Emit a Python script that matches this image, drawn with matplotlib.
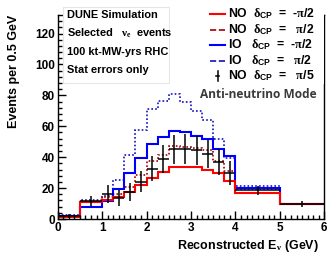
import numpy as np
import matplotlib
matplotlib.use("Agg")
import matplotlib.pyplot as plt
from matplotlib.lines import Line2D
from matplotlib.patches import Rectangle

# ---- data ----
edges = [0, 0.5, 1.0, 1.25, 1.5, 1.75, 2.0, 2.25, 2.5, 2.75, 3.0, 3.25, 3.5, 3.75, 4.0, 5.0, 6.0]
no_m = [1.0, 11.0, 12.5, 14.4, 17.6, 22.0, 26.3, 30.2, 33.8, 33.4, 33.4, 31.7, 29.5, 24.3, 16.6, 9.5]
no_p = [2.0, 11.5, 14.0, 16.0, 21.0, 28.5, 37.5, 41.5, 47.0, 46.5, 46.0, 44.5, 37.5, 31.0, 19.5, 9.5]
io_m = [2.0, 8.0, 11.5, 19.5, 30.0, 39.5, 48.5, 53.0, 57.0, 56.0, 54.0, 51.5, 45.5, 40.5, 20.0, 9.5]
io_p = [2.5, 12.0, 15.0, 25.0, 41.5, 57.5, 71.0, 76.5, 81.0, 76.0, 70.0, 64.0, 51.5, 39.5, 21.5, 9.5]
data_y = [2.0, 11.5, 16.0, 13.4, 17.6, 24.1, 32.5, 38.8, 45.0, 45.2, 44.6, 42.0, 37.0, 30.0, 18.5, 9.5]
data_err = [1.4, 3.4, 5.7, 5.2, 5.9, 6.9, 8.0, 8.8, 9.5, 9.5, 9.4, 9.2, 8.6, 7.7, 3.0, 2.0]

legend_labels = [r'NO  $\delta_{\mathbf{CP}}$  =  -$\pi$/2',
                 r'NO  $\delta_{\mathbf{CP}}$  =   $\pi$/2',
                 r'IO   $\delta_{\mathbf{CP}}$  =  -$\pi$/2',
                 r'IO   $\delta_{\mathbf{CP}}$  =   $\pi$/2',
                 r'NO  $\delta_{\mathbf{CP}}$  =   $\pi$/5']
info_lines = ['DUNE Simulation', r'Selected   $\nu_e$  events', '100 kt-MW-yrs RHC', 'Stat errors only']

plt.rcParams['font.family'] = ['Liberation Sans', 'DejaVu Sans']
plt.rcParams['font.weight'] = 'bold'
plt.rcParams['mathtext.fontset'] = 'custom'
plt.rcParams['mathtext.rm'] = 'Liberation Sans:bold'
plt.rcParams['mathtext.bf'] = 'Liberation Sans:bold'
plt.rcParams['mathtext.it'] = 'Liberation Serif'

W, H = 328, 257
fig = plt.figure(figsize=(W / 100, H / 100), dpi=100)
L, R, T, B = 57.7, 324.3, 15.0, 219.0
ax = fig.add_axes([L / W, 1 - B / H, (R - L) / W, (B - T) / H])

edges = np.array(edges)
centers = 0.5 * (edges[:-1] + edges[1:])
halfw = 0.5 * np.diff(edges)

DOT = (0, (1.0, 1.3))
ax.stairs(io_p, edges, color='#1010c0', lw=1.2, ls=DOT, baseline=None)
ax.stairs(no_p, edges, color='#a00000', lw=1.2, ls=DOT, baseline=None)
ax.stairs(io_m, edges, color='#0000ff', lw=1.5, baseline=None)
ax.stairs(no_m, edges, color='#ff0000', lw=1.5, baseline=None)
ax.errorbar(centers, data_y, yerr=data_err, xerr=halfw, fmt='none', ecolor='black', elinewidth=1.1, capsize=0)

ax.set_xlim(0, 6)
ax.set_ylim(0, 132)
ax.set_xticks(range(0, 7))
ax.set_xticks(np.arange(0, 6.01, 0.125), minor=True)
ax.set_yticks(range(0, 121, 20))
ax.set_yticks(range(0, 132, 4), minor=True)
ax.tick_params(direction='in', which='major', length=6, width=1, labelsize=8.5, pad=2)
ax.tick_params(direction='in', which='minor', length=3, width=1)
for s in ax.spines.values():
    s.set_linewidth(1.0)

ax.set_ylabel('Events per 0.5 GeV', fontsize=9, fontweight='bold')
ax.yaxis.set_label_coords(-0.141, 1.0)
ax.yaxis.label.set_ha('right')
ax.set_xlabel(r'Reconstructed E$_{\nu}$ (GeV)', fontsize=9, fontweight='bold')
ax.xaxis.set_label_coords(0.98, -0.095)
ax.xaxis.label.set_ha('right')

def axx(px):
    return (px - L) / (R - L)

def axy(py):
    return (B - py) / (B - T)

# info box
ax.add_patch(Rectangle((axx(63), axy(83)), axx(169) - axx(63), axy(7) - axy(83),
                       transform=ax.transAxes, facecolor='white', edgecolor='#e6e6e6',
                       lw=0.8, clip_on=False, zorder=3))
for i, t in enumerate(info_lines):
    ax.text(axx(67), axy(15 + 18.3 * i), t, transform=ax.transAxes, fontsize=7.9,
            fontweight='bold', va='center', ha='left', zorder=4)

# legend box (white, covers top frame)
ax.add_patch(Rectangle((axx(169.5), axy(84)), 1.0 - axx(169.5), axy(5) - axy(84),
                       transform=ax.transAxes, facecolor='white', edgecolor='none',
                       clip_on=False, zorder=3))
handles = [Line2D([], [], color='#ff0000', lw=1.5),
           Line2D([], [], color='#a00000', lw=1.2, ls=DOT),
           Line2D([], [], color='#0000ff', lw=1.5),
           Line2D([], [], color='#1010c0', lw=1.2, ls=DOT)]
for i in range(4):
    yy = axy(14 + 15.5 * i)
    ax.plot([axx(210), axx(225)], [yy, yy], transform=ax.transAxes, clip_on=False,
            color=handles[i].get_color(), lw=handles[i].get_linewidth(),
            ls=handles[i].get_linestyle(), zorder=4)
yy = axy(14 + 15.5 * 4)
ax.plot([axx(217.5), axx(217.5)], [yy - 0.025, yy + 0.025], transform=ax.transAxes,
        clip_on=False, color='black', lw=1.1, zorder=4)
ax.plot([axx(216), axx(219)], [yy, yy], transform=ax.transAxes,
        clip_on=False, color='black', lw=1.1, zorder=4)
for i, t in enumerate(legend_labels):
    ax.text(axx(228), axy(14 + 15.5 * i), t, transform=ax.transAxes, fontsize=8.8,
            fontweight='bold', va='center', ha='left', zorder=5)

ax.text(axx(258), axy(95), 'Anti-neutrino Mode', transform=ax.transAxes, fontsize=8.6,
        fontweight='bold', color='#3a3a3a', family='Open Sans', ha='center', va='center', zorder=5)

fig.savefig('out.png', dpi=100)
